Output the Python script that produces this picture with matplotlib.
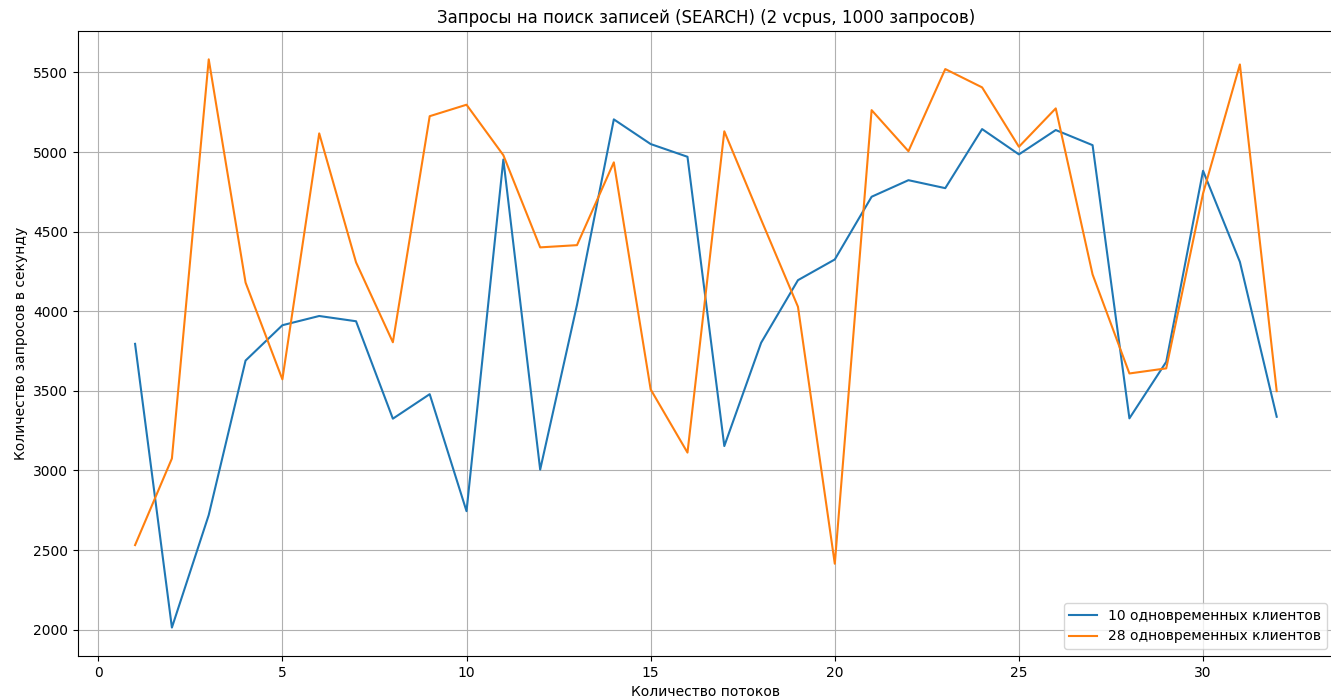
import matplotlib
matplotlib.use("Agg")
import matplotlib.pyplot as plt

# число потоков
threads = list(range(1, 33))

# 10 одновременных клиентов
rps_10 = [3795, 2013, 2720, 3690, 3912, 3970, 3937, 3325, 3479, 2744,
          4953, 3005, 4040, 5205, 5050, 4970, 3153, 3802, 4195, 4325,
          4719, 4823, 4773, 5144, 4985, 5138, 5043, 3327, 3682, 4882,
          4310, 3337]

# 28 одновременных клиентов
rps_28 = [2531, 3075, 5582, 4180, 3572, 5117, 4307, 3805, 5225, 5297,
          4980, 4401, 4415, 4935, 3509, 3112, 5130, 4575, 4028, 2414,
          5263, 5005, 5521, 5406, 5033, 5274, 4231, 3609, 3641, 4740,
          5550, 3498]

labels = ["10 одновременных клиентов", "28 одновременных клиентов"]

fig = plt.figure(figsize=(13.31, 7.0), dpi=100)
ax = fig.add_axes([0.0586, 0.0629, 0.9435, 0.8929])

ax.plot(threads, rps_10, label=labels[0])
ax.plot(threads, rps_28, label=labels[1])

ax.set_title("Запросы на поиск записей (SEARCH) (2 vcpus, 1000 запросов)")
ax.set_xlabel("Количество потоков")
ax.set_ylabel("Количество запросов в секунду")
ax.grid(True)
ax.legend(loc="lower right")
# правая граница осей в оригинале за краем картинки
ax.spines["right"].set_visible(False)

fig.savefig("out.png", dpi=100)
